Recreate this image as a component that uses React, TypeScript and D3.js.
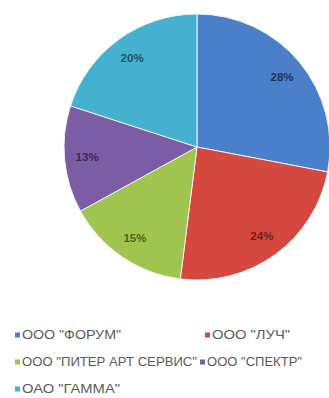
import React from "react";
import * as d3 from "d3";

const categories = ['ООО "ФОРУМ"', 'ООО "ЛУЧ"', 'ООО "ПИТЕР АРТ СЕРВИС"', 'ООО "СПЕКТР"', 'ОАО "ГАММА"'];
const values = [28, 24, 15, 13, 20];
const labels = ["28%", "24%", "15%", "13%", "20%"];
const colors = ["#4a7fc9", "#d4483f", "#9fc54e", "#7d5ca6", "#45b0cf"];
const labelColors = ["#1d3557", "#6e1f1a", "#4c6321", "#3b2a55", "#1d5567"];

const W = 329, H = 398;
const cx = 197, cy = 147, R = 133;

const legendLayout = [
  { x: 15, y: 335, w: 99 },
  { x: 205, y: 335, w: 78 },
  { x: 15, y: 362, w: 175 },
  { x: 200, y: 362, w: 95 },
  { x: 15, y: 389, w: 98 },
];

export default function App() {
  const pie = d3.pie<number>().sort(null).value((d) => d)(values);
  const arc = d3.arc<d3.PieArcDatum<number>>().innerRadius(0).outerRadius(R);
  const labelArc = d3.arc<d3.PieArcDatum<number>>().innerRadius(R * 0.83).outerRadius(R * 0.83);
  return (
    <svg width={W} height={H} style={{ position: "absolute", left: 0, top: 0, background: "#fff" }}>
      <g transform={`translate(${cx},${cy})`}>
        {pie.map((p, i) => (
          <path key={i} d={arc(p) || ""} fill={colors[i]} stroke="#f0f0f0" strokeWidth={1} />
        ))}
        {pie.map((p, i) => {
          const [x, y] = labelArc.centroid(p);
          return (
            <text key={i} x={x} y={y} textAnchor="middle" dominantBaseline="central"
              fontFamily="Liberation Sans, Arial, sans-serif" fontWeight="bold" fontSize={11.5} fill={labelColors[i]}>
              {labels[i]}
            </text>
          );
        })}
      </g>
      {categories.map((c, i) => (
        <g key={i} transform={`translate(${legendLayout[i].x},${legendLayout[i].y})`}>
          <rect x={0} y={-2.5} width={5} height={5} fill={colors[i]} />
          <text x={7} y={0} dominantBaseline="central" fontFamily="Liberation Sans, Arial, sans-serif"
            fontSize={12} fill="#595959" textLength={legendLayout[i].w} lengthAdjust="spacingAndGlyphs">{c}</text>
        </g>
      ))}
    </svg>
  );
}
